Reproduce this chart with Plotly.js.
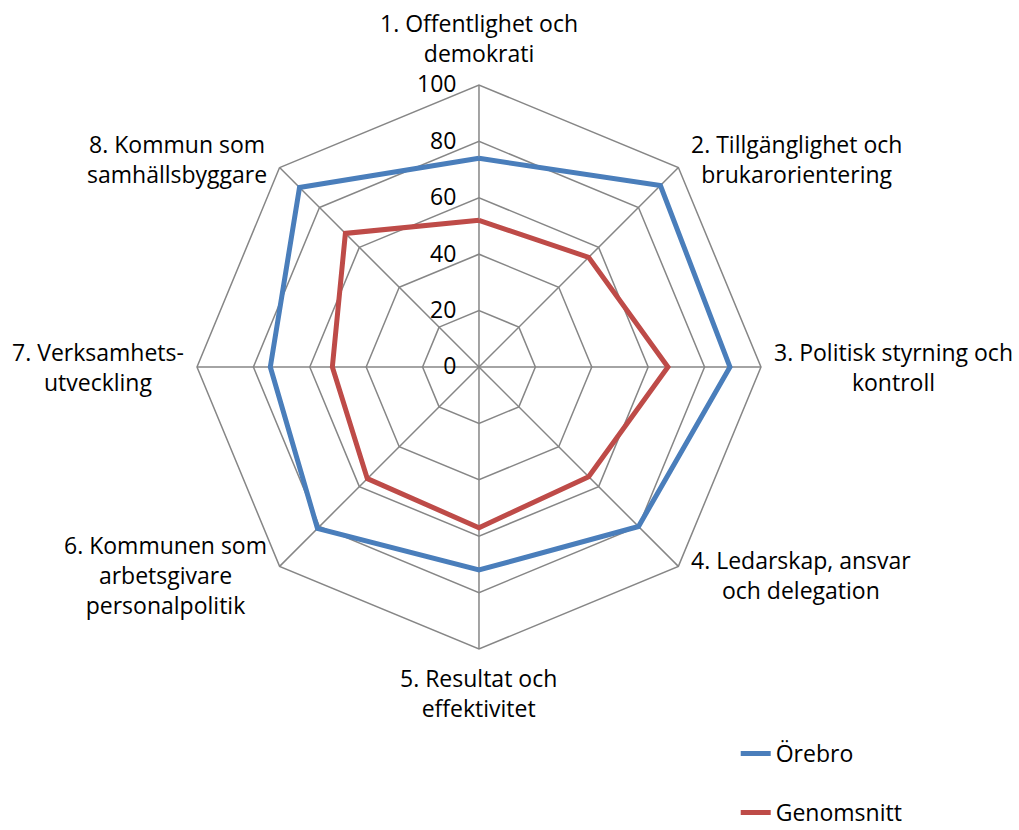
<!DOCTYPE html>
<html>
<head>
<meta charset="utf-8">
<script src="https://cdn.plot.ly/plotly-3.0.1.min.js"></script>
<style>html,body{margin:0;padding:0;background:#fff;}</style>
</head>
<body>
<div id="chart" style="width:1019px;height:830px;"></div>
<script>
const categories = [
  "1. Offentlighet och<br>demokrati",
  "2. Tillgänglighet och<br>brukarorientering",
  "3. Politisk styrning och<br>kontroll",
  "4. Ledarskap, ansvar<br>och delegation",
  "5. Resultat och<br>effektivitet",
  "6. Kommunen som<br>arbetsgivare<br>personalpolitik",
  "7. Verksamhets-<br>utveckling",
  "8. Kommun som<br>samhällsbyggare"
];
const orebro = [74, 91, 89, 80, 72, 81, 74, 90];
const genomsnitt = [52, 55, 67, 55, 57, 56, 52, 67];
const radialTicks = [0, 20, 40, 60, 80, 100];

const W = 1019, H = 830;
const FONT = 'Open Sans';
const FS = 23;
const DOMAIN = {x: [0.1933, 0.7468], y: [0.2181, 0.8976]};

const close = a => a.concat([a[0]]);

const traces = [
  {
    type: 'scatterpolar', mode: 'lines', name: 'Örebro',
    r: close(orebro), theta: close(categories),
    line: {color: '#4a7ebb', width: 5}, legendgroup: 'a', hoverinfo: 'skip'
  },
  {
    type: 'scatterpolar', mode: 'lines', name: 'Genomsnitt',
    r: close(genomsnitt), theta: close(categories),
    line: {color: '#be4b48', width: 5}, legendgroup: 'b', hoverinfo: 'skip'
  }
];

// category labels placed just outside each spoke end, centred multi-line (as in the original)
const cxPx = (DOMAIN.x[0] + DOMAIN.x[1]) / 2 * W;
const cyPx = (DOMAIN.y[0] + DOMAIN.y[1]) / 2 * H;
const Rpx = Math.min((DOMAIN.x[1] - DOMAIN.x[0]) * W, (DOMAIN.y[1] - DOMAIN.y[0]) * H) / 2;
const annotations = categories.map((label, i) => {
  const ang = (90 - i * 360 / categories.length) * Math.PI / 180;
  const c = Math.cos(ang), s = Math.sin(ang);
  const vx = (cxPx + Rpx * c) / W, vy = (cyPx + Rpx * s) / H;
  const a = {
    xref: 'paper', yref: 'paper', x: vx, y: vy, text: label,
    showarrow: false, align: 'center',
    font: {family: FONT, size: FS, color: '#000'}
  };
  if (Math.abs(c) < 1e-6) {
    a.xanchor = 'center';
    a.yanchor = s > 0 ? 'bottom' : 'top';
    a.yshift = s > 0 ? 14 : -11;
  } else {
    a.xanchor = c > 0 ? 'left' : 'right';
    a.yanchor = 'middle';
    a.xshift = 11 * Math.sign(c);
    a.yshift = 12 * s;
  }
  return a;
});

const layout = {
  width: W, height: H,
  margin: {l: 0, r: 0, t: 0, b: 0, autoexpand: false},
  paper_bgcolor: '#fff',
  font: {family: FONT + ', sans-serif', size: FS, color: '#000'},
  showlegend: true,
  legend: {
    x: 0.722, y: 0.118, xanchor: 'left', yanchor: 'top',
    font: {size: FS, color: '#000'}, tracegroupgap: 26,
    bgcolor: 'rgba(0,0,0,0)'
  },
  annotations: annotations,
  polar: {
    domain: DOMAIN,
    gridshape: 'linear',
    bgcolor: '#fff',
    radialaxis: {
      range: [0, 100], tickvals: radialTicks, ticktext: radialTicks.map(String),
      angle: 90, tickangle: 90, side: 'counterclockwise',
      showline: false, gridcolor: '#868686', gridwidth: 1.5,
      ticks: 'outside', ticklen: 14, tickcolor: 'rgba(0,0,0,0)',
      tickfont: {size: FS, color: '#000'}
    },
    angularaxis: {
      type: 'category', categoryarray: categories,
      rotation: 90, direction: 'clockwise',
      showline: true, linecolor: '#868686', linewidth: 1.5,
      gridcolor: '#868686', gridwidth: 1.5,
      showticklabels: false, ticks: ''
    }
  }
};

Plotly.newPlot('chart', traces, layout, {displayModeBar: false, staticPlot: true});
</script>
</body>
</html>
